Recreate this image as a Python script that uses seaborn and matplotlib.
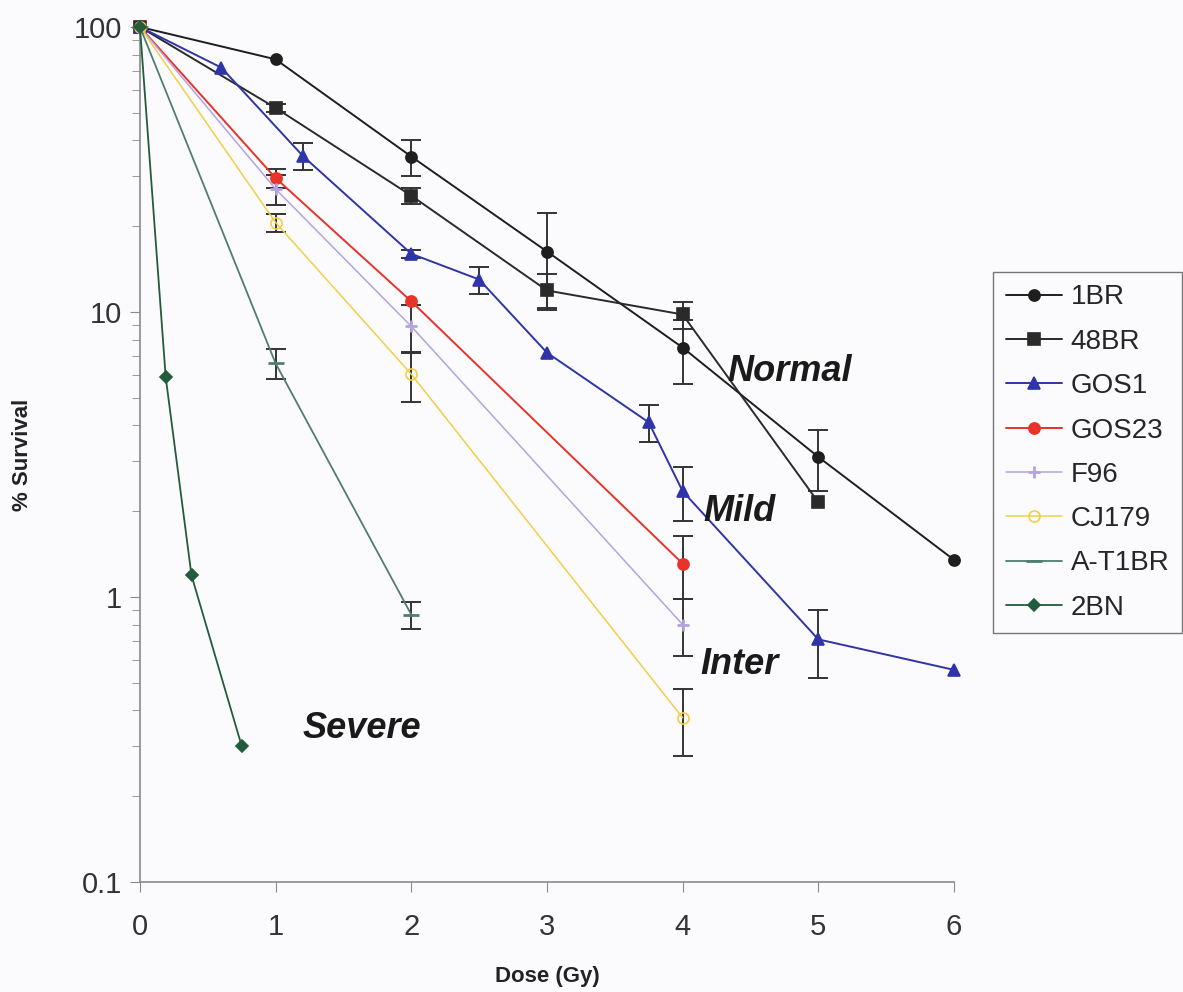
import numpy as np
import pandas as pd
import matplotlib
matplotlib.use("Agg")
import matplotlib.pyplot as plt
import seaborn as sns
from matplotlib.ticker import LogLocator, NullFormatter, FixedLocator, FixedFormatter

# dose (Gy), % survival and error for each cell line
dose_1br = [0, 1, 2, 3, 4, 5, 6]
surv_1br = [100, 77, 35.1, 16.3, 7.5, 3.1, 1.35]
err_1br = [0, 0, 5.0, 6.0, 1.9, 0.75, 0]

dose_48br = [0, 1, 2, 3, 4, 5]
surv_48br = [100, 52, 25.6, 11.9, 9.8, 2.15]
err_48br = [0, 1.5, 1.6, 1.7, 1.05, 0]

dose_gos1 = [0, 0.6, 1.2, 2, 2.5, 3, 3.75, 4, 5, 6]
surv_gos1 = [100, 72, 35.3, 16.0, 13.0, 7.2, 4.1, 2.35, 0.71, 0.555]
err_gos1 = [0, 0, 3.8, 0.5, 1.4, 0, 0.6, 0.5, 0.19, 0]

dose_gos23 = [0, 1, 2, 4]
surv_gos23 = [100, 29.5, 10.9, 1.31]
err_gos23 = [0, 2.2, 0, 0.33]

dose_f96 = [0, 1, 2, 4]
surv_f96 = [100, 27, 8.9, 0.80]
err_f96 = [0, 3.3, 1.7, 0.18]

dose_cj179 = [0, 1, 2, 4]
surv_cj179 = [100, 20.6, 6.05, 0.377]
err_cj179 = [0, 1.5, 1.2, 0.1]

dose_at1br = [0, 1, 2]
surv_at1br = [100, 6.6, 0.867]
err_at1br = [0, 0.8, 0.095]

dose_2bn = [0, 0.19, 0.38, 0.75]
surv_2bn = [100, 5.9, 1.19, 0.30]
err_2bn = [0, 0, 0, 0]

names = ["1BR", "48BR", "GOS1", "GOS23", "F96", "CJ179", "A-T1BR", "2BN"]
doses = [dose_1br, dose_48br, dose_gos1, dose_gos23, dose_f96, dose_cj179, dose_at1br, dose_2bn]
survs = [surv_1br, surv_48br, surv_gos1, surv_gos23, surv_f96, surv_cj179, surv_at1br, surv_2bn]
errs = [err_1br, err_48br, err_gos1, err_gos23, err_f96, err_cj179, err_at1br, err_2bn]

colors = ["#1e1e1e", "#2a2a2a", "#2f34a8", "#e8322a", "#b3a3e0", "#f2cf45", "#4f7d70", "#235c3c"]
markers = ["o", "s", "^", "o", "+", "o", "_", "D"]
msizes = [8, 8, 8, 8, 9, 8, 11, 6]
mfaces = [None, None, None, None, None, "none", None, None]
lwidths = [1.4, 1.4, 1.4, 1.4, 1.1, 1.1, 1.3, 1.3]

rows = []
for n, d, s, e in zip(names, doses, survs, errs):
    for di, si, ei in zip(d, s, e):
        rows.append({"line": n, "dose": di, "survival": si, "err": ei})
df = pd.DataFrame(rows)

sns.set_style("white")
plt.rcParams["font.family"] = ["Liberation Sans", "DejaVu Sans"]

fig = plt.figure(figsize=(11.83, 9.92), dpi=100, facecolor="#fbfbfd")
ax = fig.add_axes([0.1183, 0.1109, 0.6881, 0.8619])
ax.set_facecolor("none")

for i, n in enumerate(names):
    sub = df[df["line"] == n]
    kw = dict(marker=markers[i], markersize=msizes[i], markeredgecolor=colors[i],
              markeredgewidth=2 if markers[i] in ["+", "_"] else 1.2,
              clip_on=False, zorder=3)
    if mfaces[i] is not None:
        kw["markerfacecolor"] = mfaces[i]
    sns.lineplot(data=sub, x="dose", y="survival", color=colors[i], linewidth=lwidths[i],
                 sort=False, estimator=None, ax=ax, label=n, **kw)
    eb = sub[sub["err"] > 0]
    if len(eb):
        ax.errorbar(eb["dose"], eb["survival"], yerr=eb["err"], fmt="none",
                    ecolor="#333333", elinewidth=1.4, capsize=7, capthick=1.4, zorder=2)

ax.set_yscale("log")
ax.set_ylim(0.1, 100)
ax.set_xlim(0, 6)
ax.yaxis.set_major_locator(FixedLocator([0.1, 1, 10, 100]))
ax.yaxis.set_major_formatter(FixedFormatter(["0.1", "1", "10", "100"]))
ax.yaxis.set_minor_locator(LogLocator(base=10, subs=np.arange(2, 10)))
ax.yaxis.set_minor_formatter(NullFormatter())
ax.set_xticks(range(0, 7))

for side in ["top", "right"]:
    ax.spines[side].set_visible(False)
for side in ["left", "bottom"]:
    ax.spines[side].set_color("#8a8a8a")
    ax.spines[side].set_linewidth(1.2)

ax.tick_params(axis="y", which="both", direction="out", left=True, color="#8a8a8a",
               labelsize=21, labelcolor="#333333", pad=6)
ax.tick_params(axis="y", which="major", length=7)
ax.tick_params(axis="y", which="minor", length=6)
ax.tick_params(axis="x", direction="out", bottom=True, length=7, color="#8a8a8a",
               labelsize=21, labelcolor="#333333", pad=15)

ax.set_xlabel("Dose (Gy)", fontsize=16, fontweight="bold", color="#222222", labelpad=18)
ax.set_ylabel("% Survival", fontsize=16, fontweight="bold", color="#222222", labelpad=29)

ann = dict(fontsize=26, fontweight="bold", fontstyle="italic", color="#1a1a1a", va="center", ha="left")
ax.text(4.33, 6.2, "Normal", **ann)
ax.text(4.15, 2.0, "Mild", **ann)
ax.text(4.13, 0.58, "Inter", **ann)
ax.text(1.20, 0.345, "Severe", **ann)

h, l = ax.get_legend_handles_labels()
ax.get_legend().remove()
leg = fig.legend(h, l, loc="upper left", bbox_to_anchor=(993 / 1183, 1 - 272 / 992),
                 fontsize=20, frameon=True, fancybox=False, edgecolor="#555555",
                 handlelength=2.05, handletextpad=0.3, labelspacing=0.66,
                 borderpad=0.45, borderaxespad=0)
leg.get_frame().set_linewidth(1.0)
leg.get_frame().set_facecolor("#fbfbfd")

fig.savefig("out.png", dpi=100, facecolor=fig.get_facecolor())
